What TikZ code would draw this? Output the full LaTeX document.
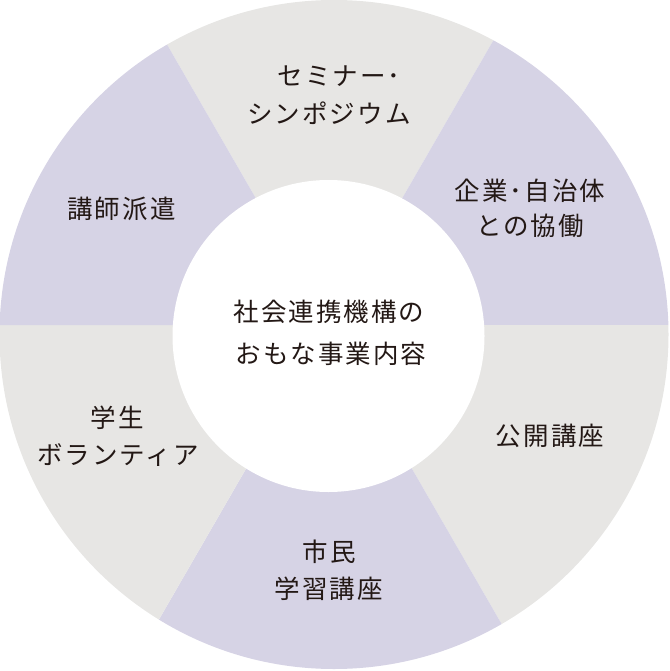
\documentclass[tikz,border=0pt]{standalone}
\usepackage{fontspec}
\usetikzlibrary{calc}
\newfontfamily\jp{Noto Sans CJK JP}[LetterSpace=8]
\definecolor{lav}{RGB}{214,211,229}
\definecolor{gry}{RGB}{231,230,228}
\definecolor{ink}{RGB}{35,24,21}
\begin{document}
\begin{tikzpicture}[x=1bp,y=-1bp,
  lbl/.style={inner sep=0pt,font=\jp\fontsize{25.5bp}{30bp}\selectfont,text=ink,anchor=center}]
\useasboundingbox (0,0) rectangle (670,671);
\coordinate (S) at (329,325);
\begin{scope}
  \clip (334,334.5) circle (334.5);
  \fill[gry] (S) -- ($(S)+(-60:800)$) -- ($(S)+(-120:800)$) -- cycle;
  \fill[lav] (S) -- ($(S)+(-60:800)$) -- ($(S)+(0:800)$) -- cycle;
  \fill[gry] (S) -- ($(S)+(0:800)$) -- ($(S)+(60:800)$) -- cycle;
  \fill[lav] (S) -- ($(S)+(60:800)$) -- ($(S)+(120:800)$) -- cycle;
  \fill[gry] (S) -- ($(S)+(120:800)$) -- ($(S)+(180:800)$) -- cycle;
  \fill[lav] (S) -- ($(S)+(180:800)$) -- ($(S)+(240:800)$) -- cycle;
\end{scope}
\fill[white] (328.5,336) circle (156);
\node[lbl] (c1) at (329,312) {社会連携機構の};
\node[lbl] (c2) at (331,353.5) {おもな事業内容};
\node[lbl] (t1) at (339,76) {セミナー･};
\node[lbl] (t2) at (329,113) {シンポジウム};
\node[lbl] (r1) at (530,191) {企業･自治体};
\node[lbl] (r2) at (530,225.5) {との協働};
\node[lbl] (l1) at (121.5,208.5) {講師派遣};
\node[lbl] (rb) at (550,435.5) {公開講座};
\node[lbl] (b1) at (329.5,552) {市民};
\node[lbl] (b2) at (329,589) {学習講座};
\node[lbl] (lb1) at (117.5,418) {学生};
\node[lbl] (lb2) at (118,455) {ボランティア};
\end{tikzpicture}
\end{document}
